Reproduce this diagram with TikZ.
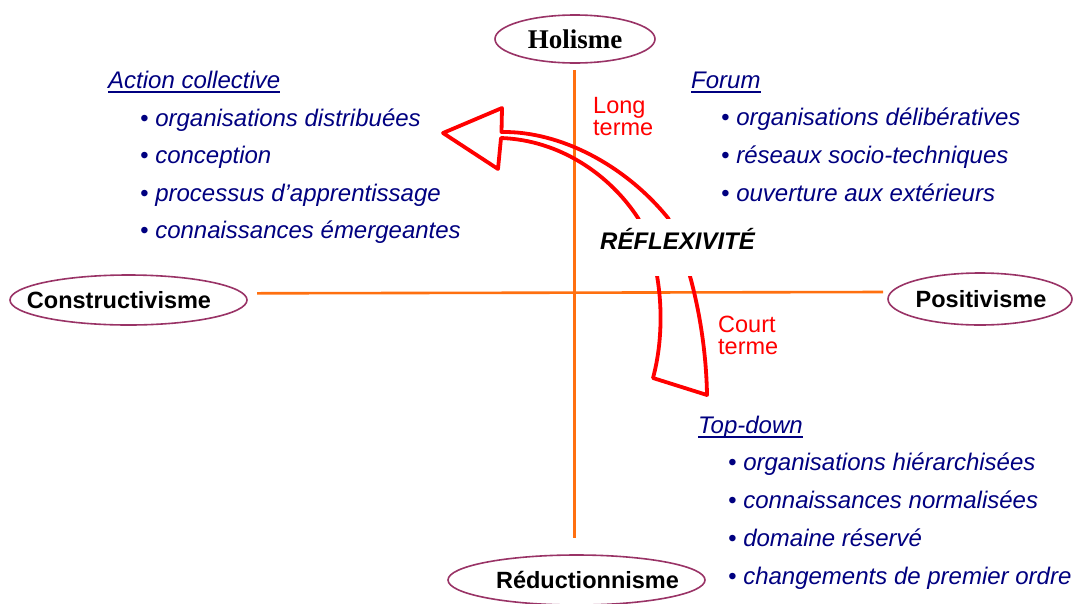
\documentclass[tikz,border=0pt]{standalone}
\usepackage{fontspec}
\setmainfont{Liberation Sans}
\newfontfamily\timesfont{Liberation Serif}
\usetikzlibrary{shapes.geometric}
\definecolor{axisorange}{RGB}{255,112,16}
\definecolor{polepurple}{RGB}{153,51,102}
\definecolor{navytext}{RGB}{0,0,128}
\definecolor{arrowred}{RGB}{255,0,0}
% underlined heading: text with a rule of the same width below it
\newcommand\ulword[1]{\setbox0\hbox{#1}\rlap{\copy0}\rule[-4.5pt]{\wd0}{1.5pt}}
% pole label of zero width, so the ellipse keeps its own size; #1 shifts the text
\newcommand\polelabel[2]{\hspace*{#1}\makebox[0pt]{#2}\hspace*{-#1}}

\begin{document}
\begin{tikzpicture}[x=1pt,y=-1pt,
  pole/.style={ellipse, draw=polepurple, line width=1.6pt, inner sep=0pt,
    font=\fontsize{23.5}{28}\selectfont\bfseries},
  heading/.style={anchor=base west, inner sep=0pt, text=navytext,
    font=\fontsize{24}{28}\selectfont\itshape},
  item/.style={heading},
  axis/.style={draw=axisorange, line width=2.6pt},
  reflex/.style={draw=arrowred, line width=3.8pt, line join=round},
  timelabel/.style={anchor=north west, inner sep=0pt, align=left, text=arrowred,
    font=\fontsize{23.5}{22}\selectfont}]

\useasboundingbox (0,0) rectangle (1075,603);

% the two axes
\coordinate (hL) at (257,293.3);
\coordinate (hR) at (883,292);
\coordinate (vT) at (574.5,70);
\coordinate (vB) at (574.5,538);
\draw[axis] (hL) -- (hR);
\draw[axis] (vT) -- (vB);

% the four poles
\node[pole, minimum width=160pt, minimum height=48pt,
  font={\timesfont\bfseries\fontsize{27}{30}\selectfont}] (holisme) at (575,39)
  {\polelabel{0pt}{Holisme}};
\node[pole, minimum width=237pt, minimum height=50pt] (constructivisme) at (128.5,300)
  {\polelabel{-9.5pt}{Constructivisme}};
\node[pole, minimum width=184pt, minimum height=52pt] (positivisme) at (980,299)
  {\polelabel{1pt}{Positivisme}};
\node[pole, minimum width=257pt, minimum height=50pt] (reductionnisme) at (576.5,580)
  {\polelabel{11pt}{Réductionnisme}};

% upper-left quadrant
\node[heading] (action) at (108,88) {\ulword{Action collective}};
\node[item] (a1) at (140,126) {• organisations distribuées};
\node[item] (a2) at (140,163) {• conception};
\node[item] (a3) at (140,201) {• processus d’apprentissage};
\node[item] (a4) at (140,238) {• connaissances émergeantes};

% upper-right quadrant
\node[heading] (forum) at (691,88) {\ulword{Forum}};
\node[item] (f1) at (721,125.5) {• organisations délibératives};
\node[item] (f2) at (721,163.5) {• réseaux socio-techniques};
\node[item] (f3) at (721,201) {• ouverture aux extérieurs};

% lower-right quadrant
\node[heading] (topdown) at (698,433) {\ulword{Top-down}};
\node[item] (t1) at (728,470) {• organisations hiérarchisées};
\node[item] (t2) at (728,508) {• connaissances normalisées};
\node[item] (t3) at (728,546) {• domaine réservé};
\node[item] (t4) at (728,584) {• changements de premier ordre};

% the bent block arrow, from short term up to long term
\draw[reflex] (443,133) -- (502,108) -- (501.5,132)
  .. controls (560,131) and (625,165) .. (668,218)
  .. controls (690,260) and (706,330) .. (707,395)
  -- (653,378)
  .. controls (666,330) and (663,265) .. (638,218)
  .. controls (610,175) and (560,140) .. (501,138)
  -- (498,169) -- cycle;

\node[timelabel] (longterm) at (593,97) {Long\\terme};
\node[timelabel] (shortterm) at (718,315.5) {Court\\terme};

\node[anchor=base west, inner sep=0pt, fill=white, text height=30pt, text depth=27pt,
  font=\fontsize{24}{28}\selectfont\bfseries\itshape] (reflexivite) at (600,249) {RÉFLEXIVITÉ};

\end{tikzpicture}
\end{document}
